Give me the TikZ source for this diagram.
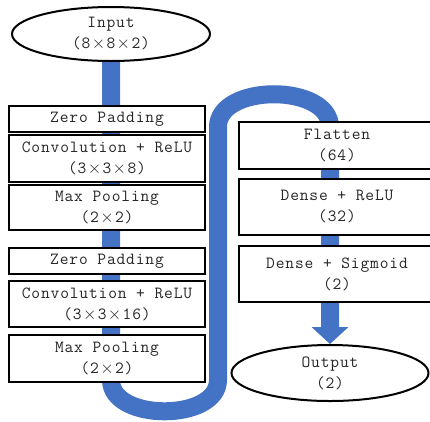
\documentclass[tikz,border=0pt]{standalone}
\usepackage{fontspec}
\setmonofont[LetterSpace=5]{Latin Modern Mono}
\usetikzlibrary{shapes.geometric,arrows.meta}
\pgfdeclarelayer{background}
\pgfsetlayers{background,main}
\definecolor{flowblue}{HTML}{4472C4}
\newcommand{\X}{\hspace{0.08em}$\times$\hspace{0.08em}}
\begin{document}
\begin{tikzpicture}[x=1pt,y=-1pt,
  layer/.style={draw=black,line width=1.5pt,fill=white,rectangle,inner sep=0pt,
    minimum width=196pt,align=center,text=black!85,
    font=\ttfamily\fontsize{17}{21}\selectfont},
  term/.style={draw=black,line width=2pt,fill=white,ellipse,inner sep=-4pt,
    align=center,text=black!85,font=\ttfamily\fontsize{17}{21}\selectfont},
  flow/.style={draw=flowblue,line width=18pt}]
\useasboundingbox (0,0) rectangle (430,421);
% terminals
\node[term,minimum width=198pt,minimum height=54pt] (in) at (111,34) {Input\\(8\X8\X2)};
\node[term,minimum width=197pt,minimum height=56pt] (out) at (330,373) {Output\\(2)};
% left column
\node[layer,minimum height=26pt] (zp1) at (107,119) {Zero Padding};
\node[layer,minimum height=47pt] (cv1) at (107,158.5) {Convolution + ReLU\\(3\X3\X8)};
\node[layer,minimum height=45pt] (mp1) at (107,207.5) {Max Pooling\\(2\X2)};
\node[layer,minimum height=26pt] (zp2) at (107,261) {Zero Padding};
\node[layer,minimum height=46pt] (cv2) at (107,304) {Convolution + ReLU\\(3\X3\X16)};
\node[layer,minimum height=47pt] (mp2) at (107,358.5) {Max Pooling\\(2\X2)};
% right column
\node[layer,minimum height=47pt] (fl) at (337,145.5) {Flatten\\(64)};
\node[layer,minimum height=56pt] (d1) at (337,207) {Dense + ReLU\\(32)};
\node[layer,minimum height=56pt] (d2) at (337,274) {Dense + Sigmoid\\(2)};
% turning points of the flow
\coordinate (b1) at (111,380);
\coordinate (b2) at (218,380);
\coordinate (t1) at (218,127);
\coordinate (t2) at (330,127);
% flow band behind the boxes
\begin{pgfonlayer}{background}
\draw[flow,-{Triangle[width=36pt,length=17pt]}]
  (in.south) -- (b1) to[out=-90,in=-90] (b2) -- (t1) to[out=90,in=90] (t2) -- (out.north);
\end{pgfonlayer}
\end{tikzpicture}
\end{document}
